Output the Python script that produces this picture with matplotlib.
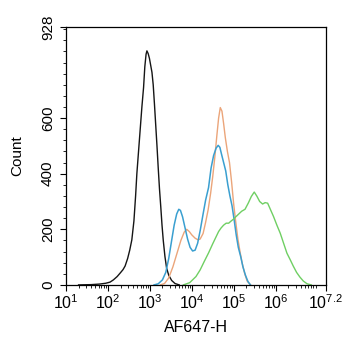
import matplotlib
matplotlib.use('Agg')
import matplotlib.pyplot as plt
from matplotlib.ticker import FixedLocator, MultipleLocator

plt.rcParams['font.family'] = ['Liberation Sans', 'DejaVu Sans']
plt.rcParams['mathtext.fontset'] = 'custom'
plt.rcParams['mathtext.rm'] = 'Liberation Sans'

# ── histogram data (x = log10 of AF647-H, y = count) ──
black_x = [1.3, 1.6, 1.8, 1.95, 2.05, 2.13, 2.22, 2.3, 2.36, 2.41, 2.47, 2.52, 2.57,
           2.62, 2.66, 2.69, 2.73, 2.77, 2.81, 2.85, 2.88, 2.91, 2.93, 2.96, 2.99,
           3.02, 3.05, 3.08, 3.11, 3.14, 3.17, 3.2, 3.23, 3.26, 3.29, 3.32, 3.36,
           3.4, 3.45, 3.52, 3.6, 3.7]
black_y = [0, 1, 3, 6, 10, 18, 30, 44, 55, 68, 95, 125, 162,
           230, 320, 400, 480, 560, 640, 710, 785, 830, 842, 832, 815,
           790, 765, 720, 650, 575, 500, 420, 345, 282, 215, 160, 102,
           60, 35, 16, 5, 0]

orange_x = [3.25, 3.35, 3.45, 3.55, 3.65, 3.74, 3.82, 3.88, 3.94, 4.0, 4.08, 4.15,
            4.2, 4.27, 4.33, 4.39, 4.45, 4.5, 4.55, 4.6, 4.64, 4.68, 4.72, 4.76,
            4.8, 4.85, 4.9, 4.95, 5.0, 5.05, 5.1, 5.15, 5.2, 5.26, 5.32, 5.4]
orange_y = [0, 5, 25, 65, 115, 160, 190, 200, 192, 180, 168, 162,
            165, 185, 225, 270, 330, 390, 460, 540, 600, 638, 625, 580,
            530, 480, 440, 370, 290, 225, 165, 120, 80, 42, 14, 0]

blue_x = [3.1, 3.2, 3.3, 3.38, 3.45, 3.52, 3.58, 3.64, 3.69, 3.73, 3.78, 3.84,
          3.9, 3.96, 4.02, 4.08, 4.14, 4.2, 4.27, 4.33, 4.4, 4.46, 4.52, 4.58,
          4.63, 4.67, 4.71, 4.76, 4.81, 4.86, 4.91, 4.96, 5.01, 5.06, 5.11, 5.17,
          5.22, 5.28, 5.34, 5.4]
blue_y = [0, 4, 18, 45, 95, 160, 215, 255, 272, 268, 245, 205,
          165, 135, 122, 125, 150, 195, 255, 305, 350, 420, 465, 492,
          502, 495, 470, 440, 410, 360, 320, 285, 235, 180, 135, 100,
          65, 35, 12, 0]

green_x = [3.8, 3.95, 4.1, 4.2, 4.3, 4.4, 4.5, 4.57, 4.64, 4.7, 4.76, 4.82, 4.88,
           4.94, 4.99, 5.05, 5.12, 5.19, 5.27, 5.35, 5.42, 5.49, 5.55, 5.62, 5.69,
           5.75, 5.81, 5.88, 5.95, 6.03, 6.11, 6.19, 6.27, 6.35, 6.42, 6.5, 6.58,
           6.66, 6.75, 6.85]
green_y = [0, 8, 30, 54, 85, 115, 148, 170, 192, 205, 215, 222, 222,
           230, 236, 245, 255, 265, 272, 295, 318, 334, 320, 300, 291,
           296, 294, 270, 246, 215, 186, 150, 114, 90, 68, 45, 28,
           14, 4, 0]

x_ticks = [1, 2, 3, 4, 5, 6, 7.2]
x_labels = ['1', '2', '3', '4', '5', '6', '7.2']
y_ticks = [0, 200, 400, 600, 928]

fig = plt.figure(figsize=(3.42, 3.5), dpi=100)
ax = fig.add_axes([0.193, 0.186, 0.760, 0.737])

ax.plot(black_x, black_y, color='#151515', lw=1.0)
ax.plot(orange_x, orange_y, color='#eba57a', lw=1.0)
ax.plot(blue_x, blue_y, color='#3a9fd0', lw=1.1)
ax.plot(green_x, green_y, color='#6fcf63', lw=1.0)

ax.set_xlim(1, 7.2)
ax.set_ylim(0, 928)

ax.set_xticks(x_ticks)
ax.set_xticklabels([r'$\mathregular{10^{%s}}$' % s for s in x_labels], fontsize=11.5)
decade = [0.301, 0.477, 0.602, 0.699, 0.778, 0.845, 0.903, 0.954]
minor_x = [d + m for d in range(1, 8) for m in decade if d + m < 7.2]
ax.xaxis.set_minor_locator(FixedLocator(minor_x))

ax.set_yticks(y_ticks)
ax.set_yticklabels([str(v) for v in y_ticks], fontsize=11, rotation=90, va='center')
ax.yaxis.set_minor_locator(MultipleLocator(40))

ax.tick_params(which='major', direction='out', length=4, width=0.8, color='black')
ax.tick_params(which='minor', direction='out', length=2.5, width=0.6, color='black')
ax.tick_params(axis='x', pad=2)
ax.tick_params(axis='y', pad=4)

for s in ax.spines.values():
    s.set_linewidth(0.9)

ax.set_xlabel('AF647-H', fontsize=11.5, labelpad=6)
ax.set_ylabel('Count', fontsize=11, labelpad=12)

fig.savefig('out.png', dpi=100, facecolor='white')
